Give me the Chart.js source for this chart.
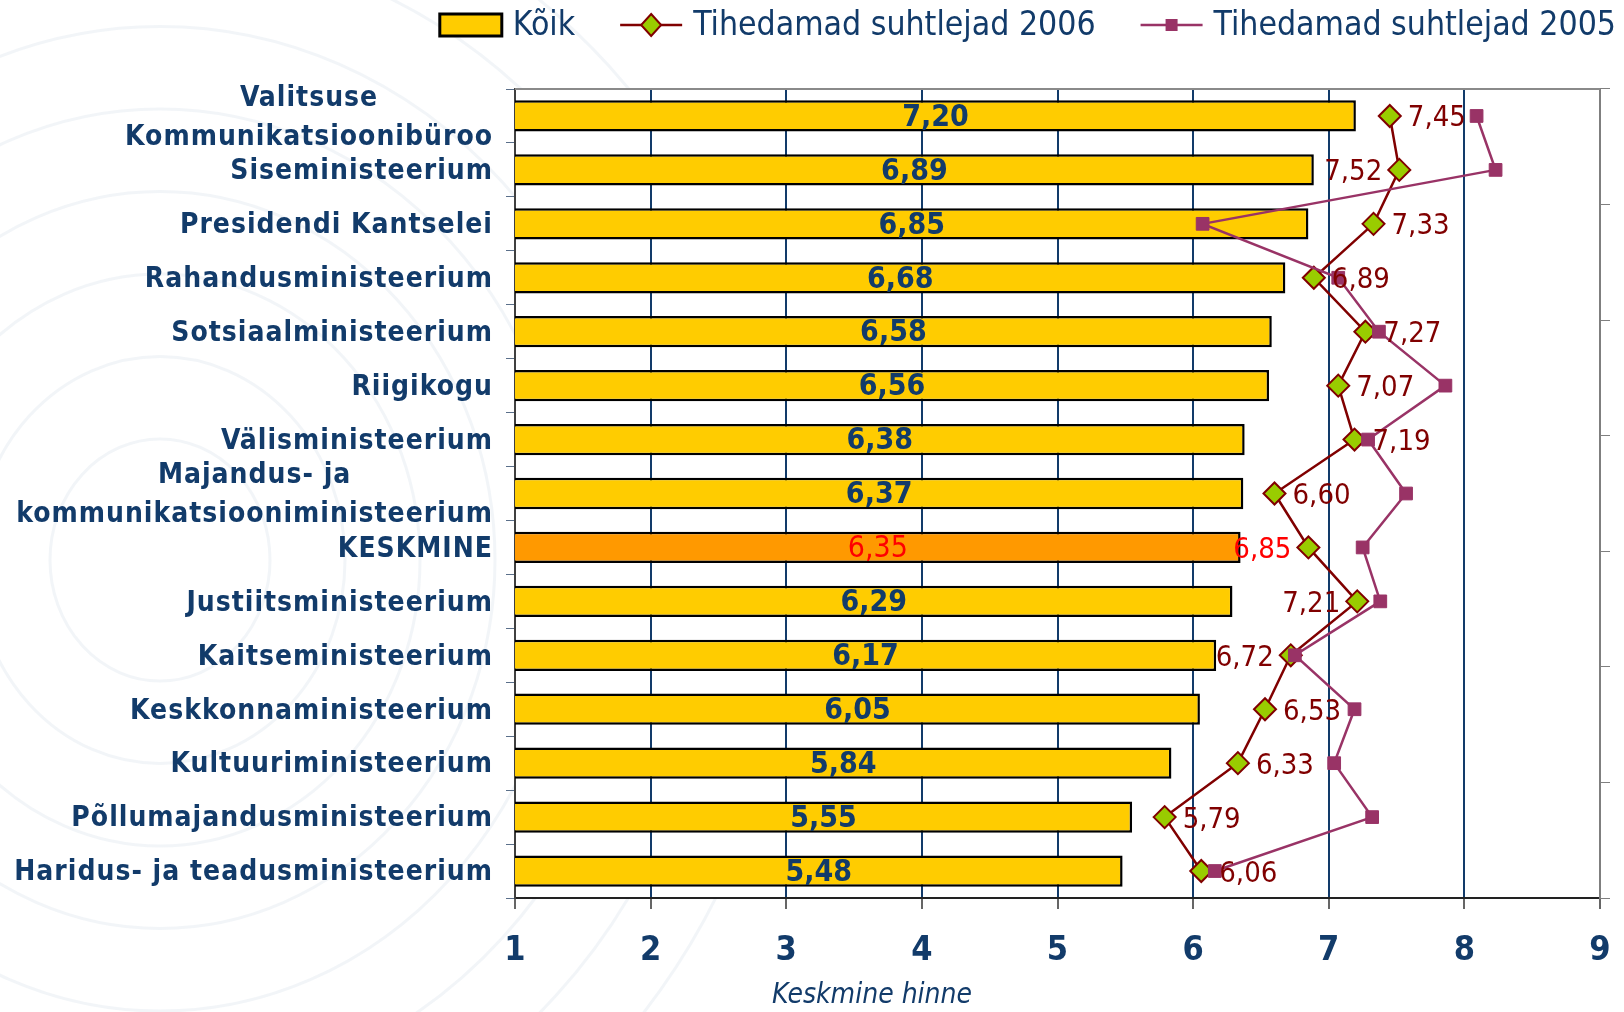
<!DOCTYPE html>
<html>
<head>
<meta charset="utf-8">
<script src="https://cdn.jsdelivr.net/npm/chart.js@4.4.0/dist/chart.umd.min.js"></script>
<style>
  html, body { margin: 0; padding: 0; background: #fff; }
  #wrap { width: 1624px; height: 1012px; }
</style>
</head>
<body>
<div id="wrap"><canvas id="chart" width="1624" height="1012"></canvas></div>
<script>
// Data
const categories = [
    ['Valitsuse', 'Kommunikatsioonibüroo'],
    'Siseministeerium',
    'Presidendi Kantselei',
    'Rahandusministeerium',
    'Sotsiaalministeerium',
    'Riigikogu',
    'Välisministeerium',
    ['Majandus- ja', 'kommunikatsiooniministeerium'],
    'KESKMINE',
    'Justiitsministeerium',
    'Kaitseministeerium',
    'Keskkonnaministeerium',
    'Kultuuriministeerium',
    'Põllumajandusministeerium',
    'Haridus- ja teadusministeerium'
];
const koik = [7.20, 6.89, 6.85, 6.68, 6.58, 6.56, 6.38, 6.37, 6.35, 6.29, 6.17, 6.05, 5.84, 5.55, 5.48];
const suhtlejad2006 = [7.45, 7.52, 7.33, 6.89, 7.27, 7.07, 7.19, 6.60, 6.85, 7.21, 6.72, 6.53, 6.33, 5.79, 6.06];
const suhtlejad2005 = [8.09, 8.23, 6.07, 7.07, 7.37, 7.86, 7.29, 7.57, 7.25, 7.38, 6.75, 7.19, 7.04, 7.32, 6.16];
const xTicks = [1, 2, 3, 4, 5, 6, 7, 8, 9];
const seriesNames = ['Kõik', 'Tihedamad suhtlejad 2006', 'Tihedamad suhtlejad 2005'];
const axisTitle = 'Keskmine hinne';
const averageRow = 'KESKMINE';
// which side of the diamond the 2006 value label sits on
const label2006Side = ['right', 'left', 'right', 'right', 'right', 'right', 'right', 'right',
    'left', 'left', 'left', 'right', 'right', 'right', 'right'];

const FONT = '"DejaVu Sans Condensed", "DejaVu Sans", Tahoma, sans-serif';
const NAVY = '#123B6A';
const DARKRED = '#800000';
const PLUM = '#993366';

Chart.defaults.font.family = FONT;

const fmt = v => v.toFixed(2).replace('.', ',');
const isAvg = i => categories[i] === averageRow;

// faint background rings + white plot area
const backdrop = {
    id: 'backdrop',
    beforeDraw(chart) {
        const { ctx, chartArea: a } = chart;
        ctx.save();
        ctx.fillStyle = '#fff';
        ctx.fillRect(0, 0, chart.width, chart.height);
        ctx.strokeStyle = 'rgba(185, 198, 215, 0.18)';
        ctx.lineWidth = 3;
        for (let r = 110; r <= 700; r += 75) {
            ctx.beginPath();
            ctx.ellipse(160, 560, r, r * 1.1, 0, 0, Math.PI * 2);
            ctx.stroke();
        }
        ctx.fillStyle = '#fff';
        ctx.fillRect(a.left, a.top, a.right - a.left, a.bottom - a.top);
        ctx.restore();
    },
    beforeDatasetsDraw(chart) {
        const { ctx, chartArea: a } = chart;
        ctx.save();
        ctx.strokeStyle = '#8a8a8a';
        ctx.lineWidth = 2;
        ctx.beginPath();
        ctx.moveTo(a.left, a.top);
        ctx.lineTo(a.right, a.top);
        ctx.stroke();
        ctx.restore();
    }
};

// category names, value labels, axis title, legend
const texts = {
    id: 'texts',
    afterDatasetDraw(chart, args) {
        if (args.index !== 0) return;
        const ctx = chart.ctx;
        const left = chart.chartArea.left;
        ctx.save();
        ctx.textAlign = 'center';
        ctx.textBaseline = 'middle';
        args.meta.data.forEach((bar, i) => {
            ctx.font = (isAvg(i) ? '' : 'bold ') + '30px ' + FONT;
            ctx.fillStyle = isAvg(i) ? '#FF0000' : NAVY;
            ctx.fillText(fmt(koik[i]), (bar.x + Math.max(bar.base, left)) / 2, bar.y + 2);
        });
        ctx.restore();
    },
    afterDatasetsDraw(chart) {
        const ctx = chart.ctx;
        const meta = chart.getDatasetMeta(1);
        ctx.save();
        ctx.font = '29px ' + FONT;
        ctx.textBaseline = 'middle';
        meta.data.forEach((pt, i) => {
            ctx.fillStyle = isAvg(i) ? '#FF0000' : DARKRED;
            if (label2006Side[i] === 'left') {
                ctx.textAlign = 'right';
                ctx.fillText(fmt(suhtlejad2006[i]), pt.x - 17, pt.y + 3);
            } else {
                ctx.textAlign = 'left';
                ctx.fillText(fmt(suhtlejad2006[i]), pt.x + 18, pt.y + 3);
            }
        });
        ctx.restore();
    },
    afterDraw(chart) {
        const { ctx, chartArea: a } = chart;
        const yScale = chart.scales.y;
        ctx.save();
        // y category labels (multi-line ones centred on their widest line)
        ctx.fillStyle = NAVY;
        ctx.font = 'bold 28px ' + FONT;
        ctx.letterSpacing = '1px';
        ctx.textBaseline = 'middle';
        const right = a.left - 22;
        categories.forEach((cat, i) => {
            const y = yScale.getPixelForValue(i) + 2;
            const lines = Array.isArray(cat) ? cat : [cat];
            if (lines.length === 1) {
                ctx.textAlign = 'right';
                ctx.fillText(lines[0], right, y);
            } else {
                const widest = Math.max(...lines.map(l => ctx.measureText(l).width));
                ctx.textAlign = 'center';
                lines.forEach((l, k) => {
                    ctx.fillText(l, right - widest / 2, y + (k - (lines.length - 1) / 2) * 39);
                });
            }
        });
        ctx.letterSpacing = '0px';

        // x axis title
        ctx.font = 'italic 28px ' + FONT;
        ctx.textAlign = 'center';
        ctx.fillText(axisTitle, a.left + (a.right - a.left) * 0.329, chart.height - 16);

        // legend, right aligned at the top
        ctx.font = '33.5px ' + FONT;
        ctx.textAlign = 'left';
        const ly = 25;
        const symW = 62, gapSym = 11, gapItem = 45;
        const widths = seriesNames.map(n => ctx.measureText(n).width);
        let x = 1616 - widths.reduce((s, w) => s + w, 0) - 3 * (symW + gapSym) - 2 * gapItem;
        seriesNames.forEach((name, k) => {
            if (k === 0) {
                ctx.fillStyle = '#FFCC00';
                ctx.strokeStyle = '#000';
                ctx.lineWidth = 3;
                ctx.fillRect(x, ly - 11, symW, 22);
                ctx.strokeRect(x, ly - 11, symW, 22);
            } else {
                const col = k === 1 ? DARKRED : PLUM;
                ctx.strokeStyle = col;
                ctx.lineWidth = 2.5;
                ctx.beginPath();
                ctx.moveTo(x, ly);
                ctx.lineTo(x + symW, ly);
                ctx.stroke();
                const cx = x + symW / 2;
                if (k === 1) {
                    ctx.fillStyle = '#99CC00';
                    ctx.lineWidth = 2;
                    ctx.beginPath();
                    ctx.moveTo(cx, ly - 11);
                    ctx.lineTo(cx + 10, ly);
                    ctx.lineTo(cx, ly + 11);
                    ctx.lineTo(cx - 10, ly);
                    ctx.closePath();
                    ctx.fill();
                    ctx.stroke();
                } else {
                    ctx.fillStyle = PLUM;
                    ctx.fillRect(cx - 6, ly - 6, 12, 12);
                }
            }
            ctx.fillStyle = NAVY;
            ctx.fillText(name, x + symW + gapSym, ly + 1);
            x += symW + gapSym + widths[k] + gapItem;
        });
        ctx.restore();
    }
};

const ctx = document.getElementById('chart');
new Chart(ctx, {
    type: 'bar',
    data: {
        labels: categories,
        datasets: [{
            label: seriesNames[0],
            data: koik,
            backgroundColor: koik.map((_, i) => isAvg(i) ? '#FF9900' : '#FFCC00'),
            borderColor: '#000',
            borderWidth: 2.5,
            borderSkipped: false,
            categoryPercentage: 1,
            barPercentage: 0.58,
            order: 3
        }, {
            type: 'line',
            label: seriesNames[1],
            data: suhtlejad2006,
            indexAxis: 'y',
            borderColor: DARKRED,
            borderWidth: 2.5,
            pointStyle: 'rectRot',
            pointRadius: 11,
            pointBackgroundColor: '#99CC00',
            pointBorderColor: DARKRED,
            pointBorderWidth: 2,
            fill: false,
            tension: 0,
            order: 2
        }, {
            type: 'line',
            label: seriesNames[2],
            data: suhtlejad2005,
            indexAxis: 'y',
            borderColor: PLUM,
            borderWidth: 2.5,
            pointStyle: 'rect',
            pointRadius: 9,
            pointBackgroundColor: PLUM,
            pointBorderColor: PLUM,
            pointBorderWidth: 1,
            fill: false,
            tension: 0,
            order: 1
        }]
    },
    options: {
        indexAxis: 'y',
        responsive: false,
        animation: false,
        layout: { padding: { top: 89, left: 0, right: 0, bottom: 0 } },
        scales: {
            x: {
                type: 'linear',
                position: 'bottom',
                min: xTicks[0],
                max: xTicks[xTicks.length - 1],
                beginAtZero: false,
                afterBuildTicks: s => { s.ticks = xTicks.map(v => ({ value: v })); },
                afterFit: s => { s.height = 114; s.paddingRight = 0; s.paddingLeft = 0; },
                ticks: {
                    color: NAVY,
                    font: { size: 34, weight: 'bold' },
                    padding: 22
                },
                grid: {
                    color: c => (c.tick && (c.tick.value === 1 || c.tick.value === 9)) ? 'rgba(0,0,0,0)' : NAVY,
                    lineWidth: 2,
                    tickColor: '#333',
                    tickWidth: 1.5,
                    tickLength: 11
                },
                border: { color: '#222', width: 2 }
            },
            y: {
                position: 'left',
                afterFit: s => { s.width = 515; },
                ticks: { display: false },
                grid: {
                    offset: true,
                    drawOnChartArea: false,
                    color: '#5a6f8a',
                    tickLength: 9
                },
                border: { color: '#404040', width: 2 }
            },
            y2: {
                type: 'linear',
                position: 'right',
                min: 0,
                max: 6,
                afterFit: s => { s.width = 24; },
                ticks: { display: false, stepSize: 1 },
                grid: {
                    drawOnChartArea: false,
                    color: '#7f7f7f',
                    tickLength: 10
                },
                border: { color: '#7f7f7f', width: 2 }
            }
        },
        plugins: {
            legend: { display: false },
            tooltip: { enabled: false }
        }
    },
    plugins: [backdrop, texts]
});
</script>
</body>
</html>
